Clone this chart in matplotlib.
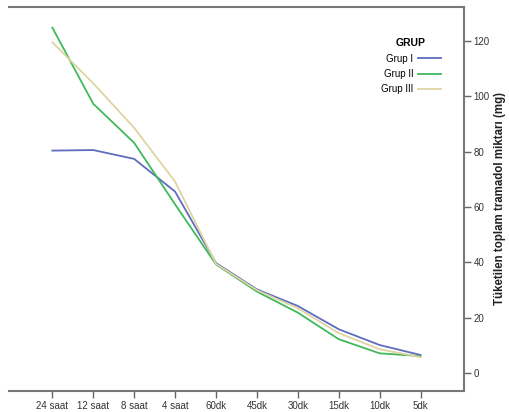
import matplotlib
matplotlib.use("Agg")
import matplotlib.pyplot as plt
import numpy as np

# zaman noktalari
times = ["5dk", "10dk", "15dk", "30dk", "45dk", "60dk", "4 saat", "8 saat", "12 saat", "24 saat"]

# ortalama tuketim (mg)
grup_1 = [6.6, 10.2, 15.9, 24.3, 30.3, 39.8, 65.6, 77.4, 80.6, 80.4]
grup_2 = [6.2, 7.2, 12.3, 21.9, 29.5, 39.3, 61.0, 83.2, 97.3, 124.8]
grup_3 = [5.8, 8.7, 14.5, 23.5, 30.0, 39.5, 69.2, 88.6, 104.7, 119.5]

series_names = ["Grup I", "Grup II", "Grup III"]
series_colors = ["#5f6cc0", "#3fba5a", "#ddd4a2"]
y_ticks = [0, 20, 40, 60, 80, 100, 120]

plt.rcParams["font.family"] = ["Liberation Sans", "DejaVu Sans"]

fig = plt.figure(figsize=(5.10, 4.12), dpi=100)
ax = fig.add_axes([0.0176, 0.051, 0.892, 0.933])

x = np.arange(len(times))
for values, name, color in zip([grup_1, grup_2, grup_3], series_names, series_colors):
    ax.plot(x, values, color=color, linewidth=1.3, label=name)

# ayna gorunumu: x ekseni ters, y ekseni sagda
ax.set_xlim(10.06, -1.06)
ax.set_ylim(-6.4, 132.4)
ax.set_xticks(x)
ax.set_xticklabels(times, fontsize=7, color="#333333")
ax.set_yticks(y_ticks)
ax.set_yticklabels([str(v) for v in y_ticks], fontsize=7, color="#333333")
ax.yaxis.tick_right()
ax.yaxis.set_label_position("right")
ax.set_ylabel("Tüketilen toplam tramadol miktarı (mg)", fontsize=8.3,
              fontweight="bold", rotation=90, labelpad=3, color="#222222")

ax.spines["left"].set_visible(False)
for side in ["top", "bottom", "right"]:
    ax.spines[side].set_color("#777777")
    ax.spines[side].set_linewidth(1.5)
ax.tick_params(axis="both", direction="out", length=5, width=1, color="#666666", pad=2)
ax.tick_params(axis="x", bottom=True, top=False)

leg = ax.legend(title="GRUP", loc="upper right", bbox_to_anchor=(0.968, 0.94),
                frameon=False, fontsize=7, markerfirst=False, handlelength=2.3,
                labelspacing=0.55, handletextpad=0.5, alignment="center",
                title_fontproperties={"weight": "bold", "size": 7.5})

fig.savefig("out.png", dpi=100)
plt.close(fig)
